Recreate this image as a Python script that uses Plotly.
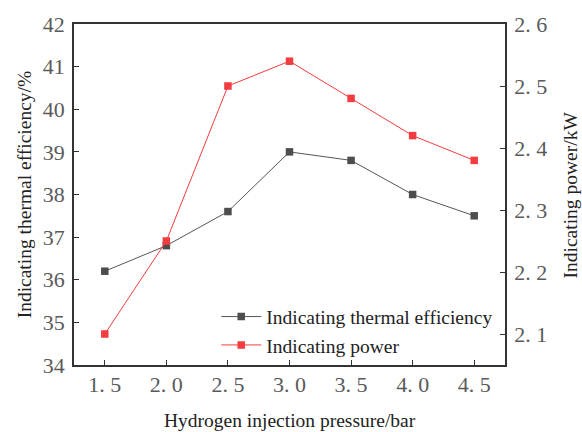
import plotly.graph_objects as go

# Hydrogen injection pressure (bar)
pressure = [1.5, 2.0, 2.5, 3.0, 3.5, 4.0, 4.5]
pressure_labels = ["1. 5", "2. 0", "2. 5", "3. 0", "3. 5", "4. 0", "4. 5"]

# Indicating thermal efficiency (%)
thermal_eff = [36.2, 36.8, 37.6, 39.0, 38.8, 38.0, 37.5]
# Indicating power (kW)
ind_power = [2.10, 2.25, 2.50, 2.54, 2.48, 2.42, 2.38]

eff_ticks = [34, 35, 36, 37, 38, 39, 40, 41, 42]
power_ticks = [2.1, 2.2, 2.3, 2.4, 2.5, 2.6]
power_labels = ["2. 1", "2. 2", "2. 3", "2. 4", "2. 5", "2. 6"]

SERIF = "Liberation Serif"
TEXT_SIZE = 19.5
GREY_C = "#4d4d4d"
RED_C = "#f23c3f"

fig = go.Figure()
fig.add_trace(go.Scatter(
    x=pressure, y=thermal_eff, name="Indicating thermal efficiency",
    mode="lines+markers",
    line=dict(color="#555555", width=1),
    marker=dict(symbol="square", size=7.5, color=GREY_C),
))
fig.add_trace(go.Scatter(
    x=pressure, y=ind_power, name="Indicating power", yaxis="y2",
    mode="lines+markers",
    line=dict(color=RED_C, width=1),
    marker=dict(symbol="square", size=7.5, color=RED_C),
))

axis_common = dict(
    showgrid=False, zeroline=False, showline=True, linecolor="#333333",
    linewidth=1.5, ticks="inside", ticklen=5, tickwidth=1.2, tickcolor="#333333",
    tickfont=dict(family=SERIF, size=22, color="#5a5a5a"),
)

fig.update_layout(
    width=582, height=432,
    margin=dict(l=74, r=77, t=17, b=67),
    plot_bgcolor="white", paper_bgcolor="white",
    font=dict(family=SERIF),
    showlegend=True,
    legend=dict(
        x=0.33, y=0.1, xanchor="left", yanchor="middle",
        bgcolor="rgba(0,0,0,0)",
        font=dict(family=SERIF, size=TEXT_SIZE, color="#222222"),
        tracegroupgap=0, itemwidth=40,
    ),
    xaxis=dict(
        range=[1.25, 4.75], tickvals=pressure, ticktext=pressure_labels,
        mirror=True, ticklabelstandoff=-1, **axis_common,
    ),
    yaxis=dict(
        range=[34, 42], tickvals=eff_ticks, ticklabelstandoff=3, **axis_common,
    ),
    yaxis2=dict(
        range=[2.05, 2.6], tickvals=power_ticks, ticktext=power_labels,
        overlaying="y", side="right", ticklabelstandoff=3, **axis_common,
    ),
    annotations=[
        dict(text="Hydrogen injection pressure/bar", xref="paper", yref="paper",
             x=0.5, y=-0.164, xanchor="center", yanchor="middle", showarrow=False,
             font=dict(family=SERIF, size=TEXT_SIZE, color="#222222")),
        dict(text="Indicating thermal efficiency/%", xref="paper", yref="paper",
             x=-0.114, y=0.5, xanchor="center", yanchor="middle", showarrow=False,
             textangle=-90, font=dict(family=SERIF, size=TEXT_SIZE, color="#222222")),
        dict(text="Indicating power/kW", xref="paper", yref="paper",
             x=1.153, y=0.5, xanchor="center", yanchor="middle", showarrow=False,
             textangle=-90, font=dict(family=SERIF, size=TEXT_SIZE, color="#222222")),
    ],
)

fig.write_html("out.html")
